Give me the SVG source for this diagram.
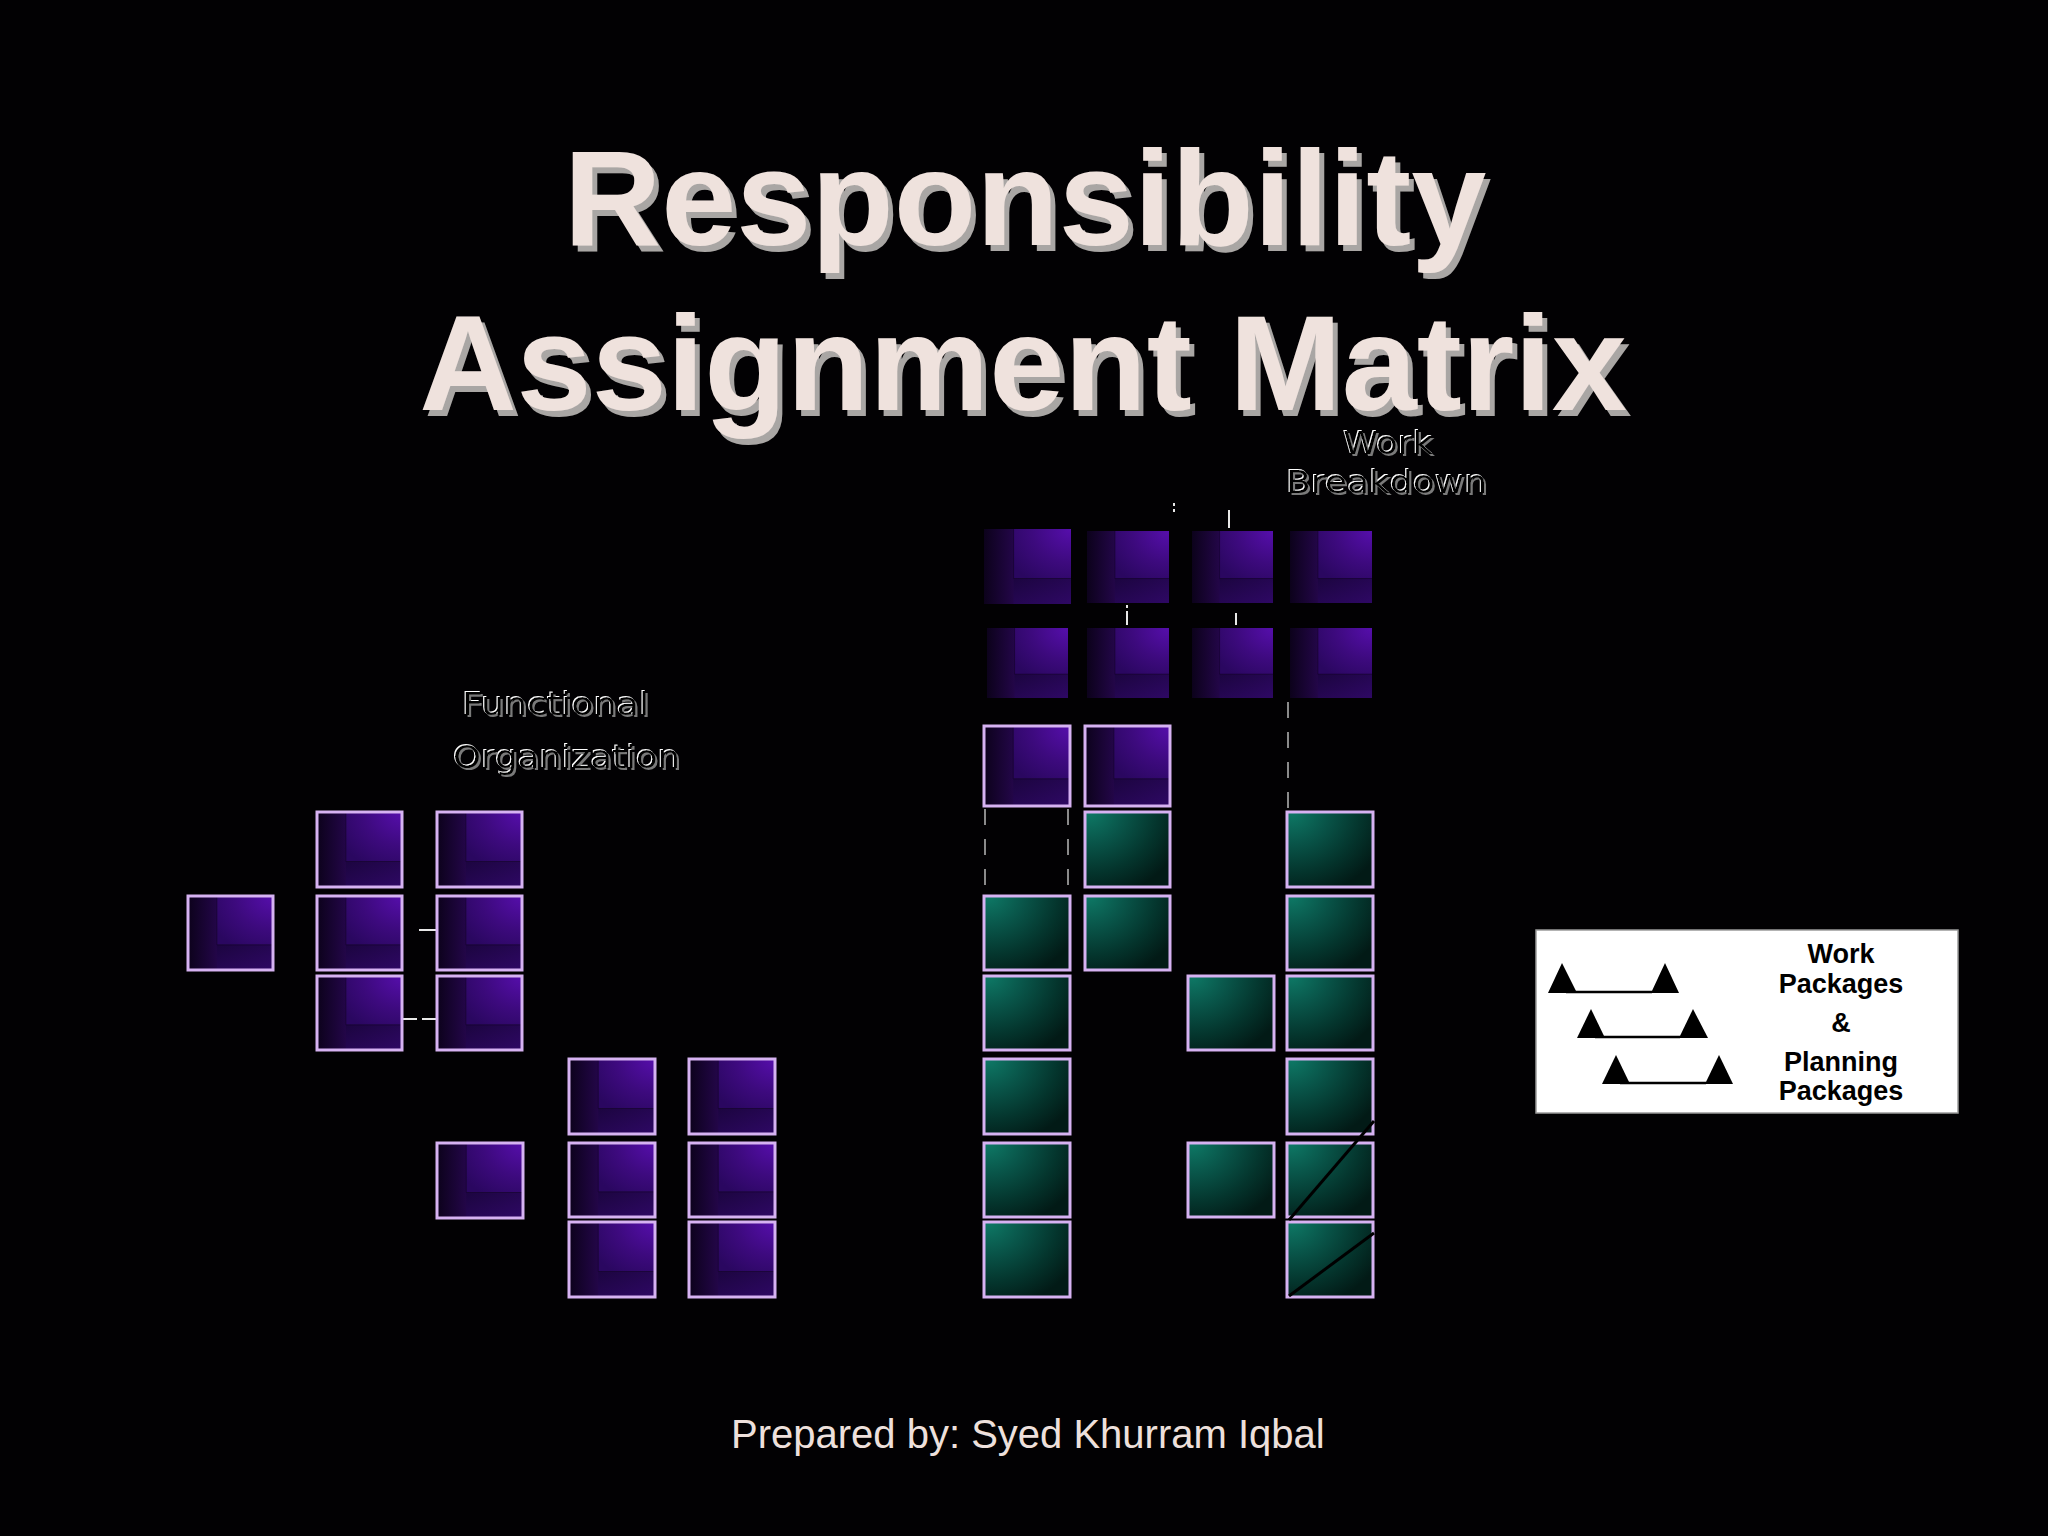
<svg xmlns="http://www.w3.org/2000/svg" xmlns:xlink="http://www.w3.org/1999/xlink" width="2048" height="1536" viewBox="0 0 2048 1536">
<defs>
<linearGradient id="pBase" x1="0" y1="0" x2="1" y2="0">
<stop offset="0" stop-color="#0c021b"/>
<stop offset="0.34" stop-color="#230648"/>
<stop offset="1" stop-color="#2c0860"/>
</linearGradient>
<radialGradient id="pInner" cx="1" cy="0" r="1.25">
<stop offset="0" stop-color="#560eac"/>
<stop offset="0.55" stop-color="#3d0a7e"/>
<stop offset="1" stop-color="#2a0760"/>
</radialGradient>
<linearGradient id="pBot" x1="0" y1="0" x2="1" y2="1">
<stop offset="0" stop-color="#1c0540"/>
<stop offset="1" stop-color="#2e0864"/>
</linearGradient>
<radialGradient id="gFill" cx="0.05" cy="0" r="1.15">
<stop offset="0" stop-color="#0e7966"/>
<stop offset="0.35" stop-color="#09564a"/>
<stop offset="0.7" stop-color="#04352d"/>
<stop offset="1" stop-color="#021a16"/>
</radialGradient>
<symbol id="pfill" viewBox="0 0 100 100" preserveAspectRatio="none">
<rect width="100" height="100" fill="url(#pBase)"/>
<rect x="34" y="0" width="66" height="66" fill="url(#pInner)"/>
<rect x="34" y="66" width="66" height="34" fill="url(#pBot)"/>
<path d="M34 0V66H100" fill="none" stroke="#14042a" stroke-width="0.8"/>
</symbol>
<symbol id="gfill" viewBox="0 0 100 100" preserveAspectRatio="none">
<rect width="100" height="100" fill="url(#gFill)"/>
</symbol>
<filter id="tsh" x="-5%" y="-10%" width="112%" height="130%">
<feOffset in="SourceAlpha" dx="5" dy="6" result="o"/>
<feFlood flood-color="#a9a6a4"/>
<feComposite in2="o" operator="in" result="s"/>
<feMerge><feMergeNode in="s"/><feMergeNode in="SourceGraphic"/></feMerge>
</filter>
<filter id="emb" x="-5%" y="-20%" width="115%" height="150%">
<feOffset in="SourceAlpha" dx="-1.5" dy="-1.5" result="w0"/>
<feFlood flood-color="#ffffff"/>
<feComposite in2="w0" operator="in" result="w"/>
<feOffset in="SourceAlpha" dx="1.5" dy="1.5" result="g0"/>
<feFlood flood-color="#7a7a7a"/>
<feComposite in2="g0" operator="in" result="g"/>
<feMerge><feMergeNode in="w"/><feMergeNode in="g"/><feMergeNode in="SourceGraphic"/></feMerge>
</filter>
<style>
.bd{fill:none;stroke:#d6b2f2;stroke-width:3}
.title{font-family:"Liberation Sans",Arial,sans-serif;font-weight:bold;font-size:135px;text-anchor:middle;fill:#efe2dd;filter:url(#tsh)}
.emb{font-family:"DejaVu Sans","Liberation Sans",sans-serif;font-size:32px;fill:#000000;filter:url(#emb)}
.leg{font-family:"Liberation Sans",Arial,sans-serif;font-weight:bold;font-size:27px;text-anchor:middle;fill:#000}
.tick{stroke:#e8e8e8;stroke-width:2;fill:none}
.dash{stroke:#8a8a8a;stroke-width:2;fill:none;stroke-dasharray:16 14}
.diag{stroke:#000;stroke-width:3;fill:none}
</style>
</defs>
<rect width="2048" height="1536" fill="#020103"/>

<g id="title">
<text class="title" x="1025" y="245">Responsibility</text>
<text class="title" x="1023" y="410">Assignment Matrix</text>
</g>

<g id="label-work-breakdown">
<text class="emb" x="1343" y="454" textLength="90" lengthAdjust="spacingAndGlyphs">Work</text>
<text class="emb" x="1286" y="493" textLength="201" lengthAdjust="spacingAndGlyphs">Breakdown</text>
</g>

<g id="label-functional-organization">
<text class="emb" x="462" y="715" textLength="187" lengthAdjust="spacingAndGlyphs">Functional</text>
<text class="emb" x="453" y="768" textLength="227" lengthAdjust="spacingAndGlyphs">Organization</text>
</g>

<g id="connectors">
<line class="tick" x1="419" y1="930" x2="437" y2="930"/>
<line class="tick" x1="403" y1="1019" x2="417" y2="1019"/>
<line class="tick" x1="422" y1="1019" x2="437" y2="1019"/>
<line class="tick" x1="1174" y1="503" x2="1174" y2="506"/>
<line class="tick" x1="1174" y1="509" x2="1174" y2="512"/>
<line class="tick" x1="1229" y1="510" x2="1229" y2="528"/>
<line class="tick" x1="1127" y1="605" x2="1127" y2="608"/>
<line class="tick" x1="1127" y1="611" x2="1127" y2="625"/>
<line class="tick" x1="1236" y1="613" x2="1236" y2="625"/>
<line class="dash" x1="1288" y1="702" x2="1288" y2="808"/>
<line class="dash" x1="985" y1="809" x2="985" y2="890" stroke-dasharray="10 15 16 16 16"/>
<line class="dash" x1="1068" y1="809" x2="1068" y2="890" stroke-dasharray="10 15 16 16 16"/>
</g>

<g id="fo-1"><use xlink:href="#pfill" x="188" y="896" width="85" height="74"/><rect class="bd" x="188" y="896" width="85" height="74"/></g>
<g id="fo-2"><use xlink:href="#pfill" x="317" y="812" width="85" height="75"/><rect class="bd" x="317" y="812" width="85" height="75"/></g>
<g id="fo-3"><use xlink:href="#pfill" x="437" y="812" width="85" height="75"/><rect class="bd" x="437" y="812" width="85" height="75"/></g>
<g id="fo-4"><use xlink:href="#pfill" x="317" y="896" width="85" height="74"/><rect class="bd" x="317" y="896" width="85" height="74"/></g>
<g id="fo-5"><use xlink:href="#pfill" x="437" y="896" width="85" height="74"/><rect class="bd" x="437" y="896" width="85" height="74"/></g>
<g id="fo-6"><use xlink:href="#pfill" x="317" y="976" width="85" height="74"/><rect class="bd" x="317" y="976" width="85" height="74"/></g>
<g id="fo-7"><use xlink:href="#pfill" x="437" y="976" width="85" height="74"/><rect class="bd" x="437" y="976" width="85" height="74"/></g>
<g id="fo-8"><use xlink:href="#pfill" x="569" y="1059" width="86" height="75"/><rect class="bd" x="569" y="1059" width="86" height="75"/></g>
<g id="fo-9"><use xlink:href="#pfill" x="689" y="1059" width="86" height="75"/><rect class="bd" x="689" y="1059" width="86" height="75"/></g>
<g id="fo-10"><use xlink:href="#pfill" x="437" y="1143" width="86" height="75"/><rect class="bd" x="437" y="1143" width="86" height="75"/></g>
<g id="fo-11"><use xlink:href="#pfill" x="569" y="1143" width="86" height="74"/><rect class="bd" x="569" y="1143" width="86" height="74"/></g>
<g id="fo-12"><use xlink:href="#pfill" x="689" y="1143" width="86" height="74"/><rect class="bd" x="689" y="1143" width="86" height="74"/></g>
<g id="fo-13"><use xlink:href="#pfill" x="569" y="1222" width="86" height="75"/><rect class="bd" x="569" y="1222" width="86" height="75"/></g>
<g id="fo-14"><use xlink:href="#pfill" x="689" y="1222" width="86" height="75"/><rect class="bd" x="689" y="1222" width="86" height="75"/></g>

<g id="wb-1-1"><use xlink:href="#pfill" x="984" y="529" width="87" height="75"/></g>
<g id="wb-1-2"><use xlink:href="#pfill" x="1087" y="531" width="82" height="72"/></g>
<g id="wb-1-3"><use xlink:href="#pfill" x="1192" y="531" width="81" height="72"/></g>
<g id="wb-1-4"><use xlink:href="#pfill" x="1290" y="531" width="82" height="72"/></g>
<g id="wb-2-1"><use xlink:href="#pfill" x="987" y="628" width="81" height="70"/></g>
<g id="wb-2-2"><use xlink:href="#pfill" x="1087" y="628" width="82" height="70"/></g>
<g id="wb-2-3"><use xlink:href="#pfill" x="1192" y="628" width="81" height="70"/></g>
<g id="wb-2-4"><use xlink:href="#pfill" x="1290" y="628" width="82" height="70"/></g>
<g id="wb-3-1"><use xlink:href="#pfill" x="984" y="726" width="86" height="80"/><rect class="bd" x="984" y="726" width="86" height="80"/></g>
<g id="wb-3-2"><use xlink:href="#pfill" x="1085" y="726" width="85" height="80"/><rect class="bd" x="1085" y="726" width="85" height="80"/></g>

<g id="wp-a2"><use xlink:href="#gfill" x="1085" y="812" width="85" height="75"/><rect class="bd" x="1085" y="812" width="85" height="75"/></g>
<g id="wp-a4"><use xlink:href="#gfill" x="1287" y="812" width="86" height="75"/><rect class="bd" x="1287" y="812" width="86" height="75"/></g>
<g id="wp-b1"><use xlink:href="#gfill" x="984" y="896" width="86" height="74"/><rect class="bd" x="984" y="896" width="86" height="74"/></g>
<g id="wp-b2"><use xlink:href="#gfill" x="1085" y="896" width="85" height="74"/><rect class="bd" x="1085" y="896" width="85" height="74"/></g>
<g id="wp-b4"><use xlink:href="#gfill" x="1287" y="896" width="86" height="74"/><rect class="bd" x="1287" y="896" width="86" height="74"/></g>
<g id="wp-c1"><use xlink:href="#gfill" x="984" y="976" width="86" height="74"/><rect class="bd" x="984" y="976" width="86" height="74"/></g>
<g id="wp-c3"><use xlink:href="#gfill" x="1188" y="976" width="86" height="74"/><rect class="bd" x="1188" y="976" width="86" height="74"/></g>
<g id="wp-c4"><use xlink:href="#gfill" x="1287" y="976" width="86" height="74"/><rect class="bd" x="1287" y="976" width="86" height="74"/></g>
<g id="wp-d1"><use xlink:href="#gfill" x="984" y="1059" width="86" height="75"/><rect class="bd" x="984" y="1059" width="86" height="75"/></g>
<g id="wp-d4"><use xlink:href="#gfill" x="1287" y="1059" width="86" height="75"/><rect class="bd" x="1287" y="1059" width="86" height="75"/></g>
<g id="wp-e1"><use xlink:href="#gfill" x="984" y="1143" width="86" height="74"/><rect class="bd" x="984" y="1143" width="86" height="74"/></g>
<g id="wp-e3"><use xlink:href="#gfill" x="1188" y="1143" width="86" height="74"/><rect class="bd" x="1188" y="1143" width="86" height="74"/></g>
<g id="wp-e4"><use xlink:href="#gfill" x="1287" y="1143" width="86" height="74"/><rect class="bd" x="1287" y="1143" width="86" height="74"/></g>
<g id="wp-f1"><use xlink:href="#gfill" x="984" y="1222" width="86" height="75"/><rect class="bd" x="984" y="1222" width="86" height="75"/></g>
<g id="wp-f4"><use xlink:href="#gfill" x="1287" y="1222" width="86" height="75"/><rect class="bd" x="1287" y="1222" width="86" height="75"/></g>

<g id="diagonals">
<line class="diag" x1="1289" y1="1220" x2="1374" y2="1121"/>
<line class="diag" x1="1289" y1="1296" x2="1374" y2="1233"/>
</g>

<g id="legend">
<rect x="1536" y="930" width="422" height="183" fill="#ffffff" stroke="#9a9a9a" stroke-width="1.5"/>
<g fill="#000">
<polygon points="1548,993 1562,963 1577,993"/>
<polygon points="1651,993 1665,963 1679,993"/>
<polygon points="1577,1038 1591,1009 1605,1038"/>
<polygon points="1679,1038 1693,1009 1708,1038"/>
<polygon points="1602,1084 1616,1055 1630,1084"/>
<polygon points="1705,1084 1719,1055 1733,1084"/>
</g>
<g stroke="#000" stroke-width="2.5">
<line x1="1566" y1="992" x2="1652" y2="992"/>
<line x1="1595" y1="1037" x2="1680" y2="1037"/>
<line x1="1620" y1="1083" x2="1706" y2="1083"/>
</g>
<text class="leg" x="1841" y="963">Work</text>
<text class="leg" x="1841" y="993">Packages</text>
<text class="leg" x="1841" y="1032">&amp;</text>
<text class="leg" x="1841" y="1071">Planning</text>
<text class="leg" x="1841" y="1100">Packages</text>
</g>

<g id="footer">
<text x="731" y="1448" font-family="'Liberation Sans',Arial,sans-serif" font-size="40" fill="#eee0dc">Prepared by: Syed Khurram Iqbal</text>
</g>
</svg>
